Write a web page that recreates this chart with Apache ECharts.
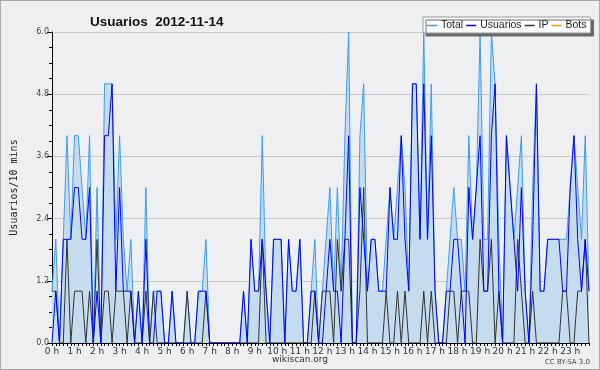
<!DOCTYPE html>
<html><head><meta charset="utf-8">
<script src="https://cdn.jsdelivr.net/npm/echarts@6/dist/echarts.min.js"></script>
<style>
html,body{margin:0;padding:0;background:#f0f0f0;}
#c{width:600px;height:370px;box-sizing:border-box;border:1px solid #a8a8a8;background:#eeeff1;}
</style></head>
<body><div id="c"></div>
<script>
const hourLabels = ["0 h","1 h","2 h","3 h","4 h","5 h","6 h","7 h","8 h","9 h","10 h","11 h","12 h","13 h","14 h","15 h","16 h","17 h","18 h","19 h","20 h","21 h","22 h","23 h"];
const minuteSteps = ["00","10","20","30","40","50"];
const seriesNames = ["Total","Usuarios","IP","Bots"];
const yTicks = [0, 1.2, 2.4, 3.6, 4.8, 6.0];

const total = [
 1,2,0,2,4,2,4,4,3,2, 4,0,3,0,5,5,5,2,4,2, 1,2,0,1,0,3,0,1,1,1,
 0,0,1,0,0,0,1,0,0,1, 1,2,0,0,0,0,0,0,0,0, 0,1,0,2,1,1,4,1,0,2,
 2,2,0,2,1,1,2,0,0,1, 2,0,1,2,3,1,3,1,4,6, 0,0,4,5,1,2,2,1,1,2,
 3,2,3,4,3,1,5,5,2,6, 2,5,1,0,0,1,2,3,2,2, 1,4,2,3,6,2,2,6,5,2,
 0,4,3,2,3,4,1,0,3,5, 1,1,2,2,2,2,2,2,3,4, 3,2,4,1];
const usuarios = [
 0,1,0,2,2,2,3,3,2,2, 3,0,1,0,4,4,5,1,3,1, 1,1,0,1,0,2,0,0,1,1,
 0,0,1,0,0,0,0,0,0,1, 1,1,0,0,0,0,0,0,0,0, 0,1,0,2,1,1,2,1,0,2,
 2,2,0,2,1,1,2,0,0,1, 1,0,0,1,2,1,1,0,2,4, 0,0,3,2,1,2,2,1,1,1,
 3,2,2,4,2,1,5,5,2,5, 2,4,1,0,0,1,1,2,2,1, 0,3,2,3,4,1,1,4,5,1,
 0,4,3,2,1,3,1,0,2,5, 1,1,2,2,2,2,1,1,3,4, 2,1,2,1];
const ip = [
 1,1,0,0,2,0,1,1,1,0, 1,0,2,0,1,1,0,1,1,1, 0,1,0,0,0,1,0,1,0,0,
 0,0,0,0,0,0,1,0,0,0, 0,1,0,0,0,0,0,0,0,0, 0,0,0,0,0,0,2,0,0,0,
 0,0,0,0,0,0,0,0,0,0, 1,0,1,1,1,0,2,1,2,2, 0,0,1,3,0,0,0,0,0,1,
 0,0,1,0,1,0,0,0,0,1, 0,1,0,0,0,0,1,1,0,1, 1,1,0,0,2,1,1,2,0,1,
 0,0,0,0,2,1,0,0,1,0, 0,0,0,0,0,0,1,1,0,0, 1,1,2,0];
const bots = [
 0,0,0,0,0,0,0,0,0,0, 0,0,0,0,0,0,0,0,0,0, 0,0,0,0,0,0,0,0,0,0,
 0,0,0,0,0,0,0,0,0,0, 0,0,0,0,0,0,0,0,0,0, 0,0,0,0,0,0,0,0,0,0,
 0,0,0,0,0,0,0,0,0,0, 0,0,0,0,0,0,0,0,0,0, 0,0,0,0,0,0,0,0,0,0,
 0,0,0,0,0,0,0,0,0,0, 0,0,0,0,0,0,0,0,0,0, 0,0,0,0,0,0,0,0,0,0,
 0,0,0,0,0,0,0,0,0,0, 0,0,0,0,0,0,0,0,0,0, 0,0,0,0];

const categories = [];
hourLabels.forEach(function(h){ minuteSteps.forEach(function(m){ categories.push(h + ":" + m); }); });

const chart = echarts.init(document.getElementById('c'), null, {renderer:'canvas'});
const lineSeries = function(name, data, color, z, extra){
  return Object.assign({
    name: name, type:'line', data: data, symbol:'none', z: z,
    lineStyle:{color: color, width: 1}, itemStyle:{color: color},
    emphasis:{disabled:true}, animation:false
  }, extra || {});
};
chart.setOption({
  animation:false,
  backgroundColor:'#eeeff1',
  title:{text:'Usuarios  2012-11-14', left:84, top:9,
    textStyle:{fontSize:13.5, fontWeight:'bold', color:'#111', fontFamily:'Liberation Sans'}},
  legend:{
    data: seriesNames, left:422, top:16, orient:'horizontal',
    backgroundColor:'#ffffff', borderColor:'#999', borderWidth:1,
    shadowColor:'#6a6a6a', shadowOffsetX:3, shadowOffsetY:3, shadowBlur:0,
    padding:[3,4,2,4], itemGap:3, itemWidth:10, itemHeight:1.5, icon:'rect',
    textStyle:{fontSize:10.5, color:'#222', fontFamily:'Liberation Sans', padding:[0,0,0,-1]}
  },
  grid:{left:45, right:10, top:31, bottom:26, containLabel:false},
  xAxis:{
    type:'category', data: categories, boundaryGap:false, z:5,
    axisLine:{lineStyle:{color:'#000', width:1}},
    axisTick:{show:true, interval:0, length:3, lineStyle:{color:'#000'}},
    axisLabel:{interval:5, fontSize:9, color:'#333', margin:4, fontFamily:'DejaVu Sans',
      formatter:function(v){ return v.split(':')[0]; }},
    splitLine:{show:false}
  },
  yAxis:{
    type:'value', min: yTicks[0], max: yTicks[yTicks.length-1], interval: yTicks[1],
    name:'Usuarios/10 mins', nameLocation:'middle', nameGap:33,
    nameTextStyle:{fontSize:10, color:'#222', fontFamily:'DejaVu Sans Mono'},
    axisLine:{show:true, lineStyle:{color:'#000'}},
    axisTick:{show:true, length:5, lineStyle:{color:'#000'}},
    minorTick:{show:true, splitNumber:4, length:3, lineStyle:{color:'#000'}},
    axisLabel:{fontSize:8, color:'#444', margin:3, fontFamily:'DejaVu Sans',
      formatter:function(v){ return v.toFixed(1); }},
    splitLine:{show:true, lineStyle:{color:'#c8c8c8', width:1}}
  },
  series:[
    lineSeries('Total', total, '#3d9cf0', 2, {areaStyle:{color:'#c5dcef', opacity:1}}),
    lineSeries('Usuarios', usuarios, '#0000ff', 4),
    lineSeries('IP', ip, '#333333', 3),
    lineSeries('Bots', bots, '#ff9900', 1)
  ],
  graphic:[
    {type:'text', left:'center', top:354, style:{text:'wikiscan.org', fontSize:9, fill:'#333', fontFamily:'DejaVu Sans'}},
    {type:'text', right:9, top:358, style:{text:'CC BY-SA 3.0', fontSize:7, fill:'#444', fontFamily:'DejaVu Sans'}}
  ]
});
</script></body></html>
